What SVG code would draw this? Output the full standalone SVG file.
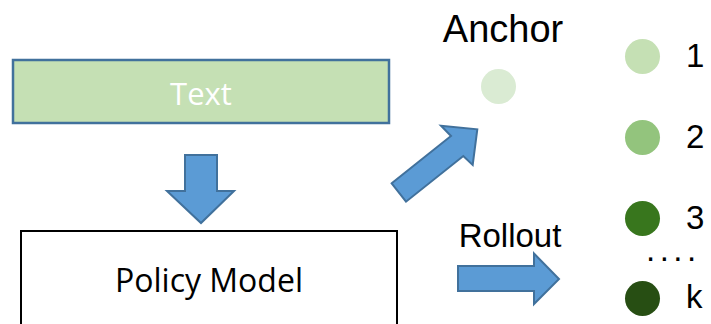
<svg xmlns="http://www.w3.org/2000/svg" width="711" height="324" viewBox="0 0 711 324">
<style>
.arrow{fill:#5B9BD5;stroke:#41719C;stroke-width:2;stroke-linejoin:miter}
.cal{font-family:"Open Sans","Liberation Sans",sans-serif}
.ar{font-family:"Liberation Sans",Arial,sans-serif;fill:#000}
</style>
<rect width="711" height="324" fill="#fff"/>
<g id="text-node">
<rect x="13" y="60" width="376" height="63" fill="#C5E0B4" stroke="#41719C" stroke-width="2.5"/>
<text x="201" y="105" class="cal" font-size="31" fill="#fff" text-anchor="middle">Text</text>
</g>
<g id="policy-model">
<rect x="21" y="231" width="376" height="100" fill="#fff" stroke="#000" stroke-width="2"/>
<text x="209" y="292" class="cal" font-size="32" fill="#000" text-anchor="middle">Policy Model</text>
</g>
<g id="anchor">
<text x="503" y="41.5" class="ar" font-size="38" text-anchor="middle">Anchor</text>
<circle cx="498.5" cy="86.5" r="17.5" fill="#DAEBD3"/>
</g>
<g id="rollout-1">
<circle cx="642.5" cy="56.5" r="17.5" fill="#C5E0B4"/>
<text x="686" y="67" class="ar" font-size="33">1</text>
</g>
<g id="rollout-2">
<circle cx="642.5" cy="137.5" r="17.5" fill="#93C47D"/>
<text x="686" y="148" class="ar" font-size="33">2</text>
</g>
<g id="rollout-3">
<circle cx="642.5" cy="218.5" r="17.5" fill="#38761D"/>
<text x="686" y="228.5" class="ar" font-size="33">3</text>
</g>
<g id="ellipsis">
<text x="646" y="261" class="ar" font-size="33" letter-spacing="4.5">....</text>
</g>
<g id="rollout-k">
<circle cx="642.5" cy="298.5" r="17.5" fill="#274E13"/>
<text x="686" y="308" class="ar" font-size="33">k</text>
</g>
<g id="connectors">
<polygon class="arrow" points="185,155 217,155 217,191 234,191 201,223 167,191 185,191"/>
<polygon class="arrow" points="391.7,183.3 451,136 441,125.7 477.3,129.3 472.7,165 463.3,156 406,201.7"/>
<polygon class="arrow" points="458,266 534,266 534,253.5 559,279 534,304 534,291 458,291"/>
<text x="510" y="246.5" class="ar" font-size="33" text-anchor="middle">Rollout</text>
</g>
</svg>
